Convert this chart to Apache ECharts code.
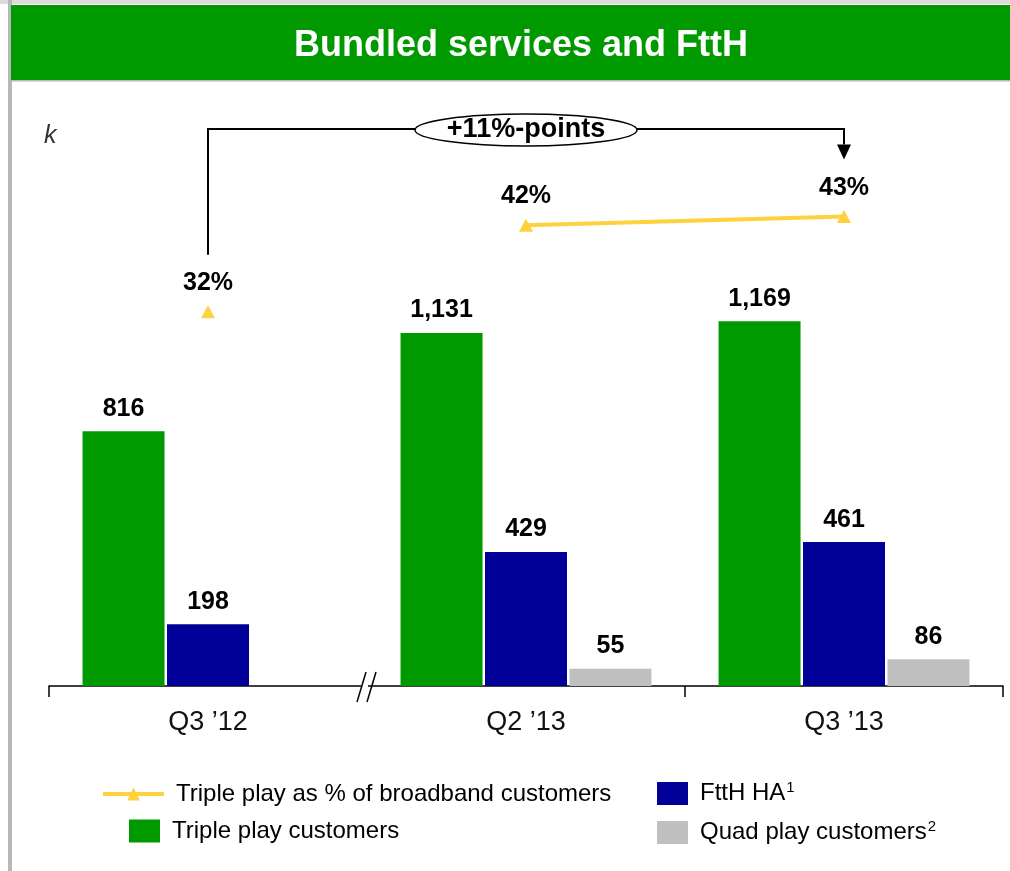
<!DOCTYPE html>
<html>
<head>
<meta charset="utf-8">
<script src="https://cdn.jsdelivr.net/npm/echarts@6/dist/echarts.min.js"></script>
<style>
  html, body { margin: 0; padding: 0; background: #fff; }
  #main { width: 1010px; height: 871px; }
</style>
</head>
<body>
<div id="main"></div>
<script>
// data
const categories = ['Q3 ’12', 'Q2 ’13', 'Q3 ’13']
const tripleCustomers = [816, 1131, 1169]
const ftthHA = [198, 429, 461]
const quadCustomers = ['-', 55, 86]
const tripleShare = [32, 42, 43]

const font = 'Liberation Sans, Arial, sans-serif'
const lineName = 'Triple play as % of broadband customers'
const yellow = '#fdd23e'

const chart = echarts.init(document.getElementById('main'))

const barLabel = {
  show: true,
  position: 'top',
  distance: 10,
  fontFamily: font,
  fontSize: 25,
  fontWeight: 'bold',
  color: '#000',
  formatter: p => Number(p.value).toLocaleString('en-US')
}
const lineLabel = {
  show: true,
  position: 'top',
  distance: 10,
  fontFamily: font,
  fontSize: 25,
  fontWeight: 'bold',
  color: '#000',
  formatter: p => p.value + '%'
}

function legendBox(name, left, top, w, h, fmt) {
  return {
    data: [name],
    left: left,
    top: top,
    padding: 0,
    itemWidth: w,
    itemHeight: h,
    icon: name === lineName ? undefined : 'rect',
    lineStyle: { width: 4 },
    selectedMode: false,
    formatter: fmt,
    textStyle: {
      fontFamily: font,
      fontSize: 24,
      color: '#000',
      padding: [0, 0, 0, 7],
      rich: {
        t: { fontFamily: font, fontSize: 24, color: '#000' },
        s: { fontFamily: font, fontSize: 15, color: '#000', padding: [0, 0, 12, 1] }
      }
    }
  }
}

const option = {
  animation: false,
  backgroundColor: '#fff',
  title: {
    text: 'Bundled services and FttH',
    left: 516,
    top: 23,
    textAlign: 'center',
    textStyle: { fontFamily: font, fontSize: 36, fontWeight: 'bold', color: '#fff' }
  },
  legend: [
    legendBox(lineName, 101, 782, 61, 16),
    legendBox('Triple play customers', 129, 819, 31, 23),
    legendBox('FttH HA', 657, 780, 31, 23, () => '{t|FttH HA}{s|1}'),
    legendBox('Quad play customers', 657, 819, 31, 23, () => '{t|Quad play customers}{s|2}')
  ],
  grid: { left: 49, right: 7, top: 93, bottom: 185 },
  xAxis: {
    type: 'category',
    data: categories,
    axisLine: { lineStyle: { color: '#000', width: 1.5 } },
    axisTick: {
      show: true,
      length: 11,
      interval: i => i !== 1,
      lineStyle: { color: '#000', width: 1.5 }
    },
    axisLabel: { margin: 23, fontFamily: font, fontSize: 27, color: '#111' }
  },
  yAxis: [
    { type: 'value', min: 0, max: 1900, show: false, splitLine: { show: false } },
    { type: 'value', min: -11.3, max: 57.3, show: false, splitLine: { show: false } }
  ],
  series: [
    {
      name: 'Triple play customers',
      type: 'bar',
      data: tripleCustomers,
      barWidth: 82,
      barGap: '3%',
      itemStyle: { color: '#009900' },
      label: barLabel
    },
    {
      name: 'FttH HA',
      type: 'bar',
      data: ftthHA,
      barWidth: 82,
      barGap: '3%',
      itemStyle: { color: '#000099' },
      label: barLabel
    },
    {
      name: 'Quad play customers',
      type: 'bar',
      data: quadCustomers,
      barWidth: 82,
      barGap: '3%',
      itemStyle: { color: '#c0c0c0' },
      label: barLabel
    },
    {
      // line only between the two 2013 quarters
      name: lineName,
      type: 'line',
      yAxisIndex: 1,
      data: tripleShare.map((v, i) => (i === 0 ? '-' : v)),
      symbol: 'triangle',
      symbolSize: [14, 13],
      showSymbol: true,
      lineStyle: { color: yellow, width: 4 },
      itemStyle: { color: yellow },
      label: lineLabel,
      z: 5
    },
    {
      name: lineName,
      type: 'line',
      yAxisIndex: 1,
      data: tripleShare.map((v, i) => (i === 0 ? v : '-')),
      symbol: 'triangle',
      symbolSize: [14, 13],
      showSymbol: true,
      lineStyle: { color: yellow, width: 4 },
      itemStyle: { color: yellow },
      label: lineLabel,
      z: 5
    }
  ]
}

chart.setOption(option)

// annotations placed from the chart's own scales
const c0 = chart.convertToPixel({ xAxisIndex: 0 }, categories[0])
const c1 = chart.convertToPixel({ xAxisIndex: 0 }, categories[1])
const half = (c1 - c0) / 2
const pFirst = chart.convertToPixel({ seriesIndex: 4 }, [0, tripleShare[0]])
const pLast = chart.convertToPixel({ seriesIndex: 3 }, [2, tripleShare[2]])
const axisY = chart.convertToPixel({ yAxisIndex: 0 }, 0)
const xb = c0 + half
const topY = 129
const xL = pFirst[0]
const xR = pLast[0]
const xMid = c1

chart.setOption({
  graphic: [
    { type: 'rect', shape: { x: 0, y: 0, width: 1010, height: 4 }, style: { fill: '#dcdcdc' }, z: -10 },
    { type: 'rect', shape: { x: 8, y: 0, width: 4, height: 871 }, style: { fill: '#b8b8b8' }, z: -10 },
    { type: 'rect', shape: { x: 11, y: 5, width: 999, height: 75 }, style: { fill: '#009900' }, z: -9 },
    { type: 'rect', shape: { x: 11, y: 80, width: 999, height: 1.5 }, style: { fill: '#b8b8b8' }, z: -9 },
    {
      type: 'text', left: 44, top: 124,
      style: { text: 'k', fontFamily: font, fontSize: 25, fontStyle: 'italic', fill: '#333' }
    },
    {
      type: 'polyline',
      shape: { points: [[xL, pFirst[1] - 57], [xL, topY], [xR, topY], [xR, pLast[1] - 72]] },
      style: { stroke: '#000', lineWidth: 2, fill: null }
    },
    {
      type: 'polygon',
      shape: { points: [[xR - 7, pLast[1] - 72], [xR + 7, pLast[1] - 72], [xR, pLast[1] - 57]] },
      style: { fill: '#000' }
    },
    {
      type: 'ellipse',
      shape: { cx: xMid, cy: topY + 1, rx: 111, ry: 16 },
      style: { fill: '#fff', stroke: '#000', lineWidth: 1.5 }
    },
    {
      type: 'text', x: xMid, y: topY + 1,
      style: {
        text: '+11%-points', fontFamily: font, fontSize: 27, fontWeight: 'bold', fill: '#000',
        align: 'center', verticalAlign: 'middle'
      }
    },
    // axis break marks
    { type: 'rect', shape: { x: xb - 6, y: axisY - 3, width: 7, height: 6 }, style: { fill: '#fff' }, z: 20 },
    { type: 'line', shape: { x1: xb - 10, y1: axisY + 16, x2: xb - 1, y2: axisY - 14 }, style: { stroke: '#000', lineWidth: 1.5 }, z: 21 },
    { type: 'line', shape: { x1: xb, y1: axisY + 16, x2: xb + 9, y2: axisY - 14 }, style: { stroke: '#000', lineWidth: 1.5 }, z: 21 }
  ]
})
</script>
</body>
</html>
